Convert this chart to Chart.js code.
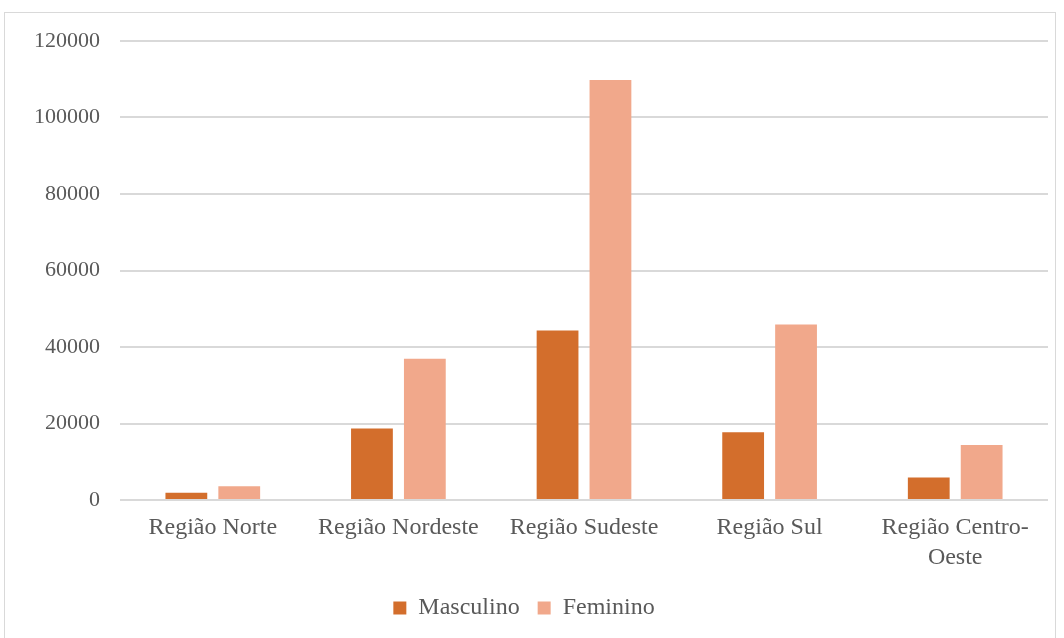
<!DOCTYPE html>
<html>
<head>
<meta charset="utf-8">
<script src="https://cdn.jsdelivr.net/npm/chart.js@4/dist/chart.umd.min.js"></script>
<style>
  body { margin: 0; background: #fff; }
  #wrap { position: relative; width: 1064px; height: 638px; overflow: hidden; }
  #frame { position: absolute; left: 4px; top: 12px; width: 1052px; height: 640px; border: 1px solid #d9d9d9; box-sizing: border-box; }
  canvas { position: absolute; left: 0; top: 0; }
</style>
</head>
<body>
<div id="wrap">
  <div id="frame"></div>
  <canvas id="chart" width="1064" height="638"></canvas>
</div>
<script>
// regiões
const regioes = ['Região Norte', 'Região Nordeste', 'Região Sudeste', 'Região Sul', ['Região Centro-', 'Oeste']];
// valores
const masculino = [1900, 18700, 44300, 17700, 5900];
const feminino = [3600, 36900, 109800, 45900, 14400];
const yTicks = [0, 20000, 40000, 60000, 80000, 100000, 120000];

const familia = '"Liberation Serif", "Times New Roman", serif';
const fonte = { family: familia, size: 24, lineHeight: 1.25 };

new Chart(document.getElementById('chart'), {
    type: 'bar',
    data: {
        labels: regioes,
        datasets: [
            {
                label: 'Masculino',
                data: masculino,
                backgroundColor: '#d36e2c',
                borderWidth: 0,
                barPercentage: 0.79,
                categoryPercentage: 0.57
            },
            {
                label: 'Feminino',
                data: feminino,
                backgroundColor: '#f1a88b',
                borderWidth: 0,
                barPercentage: 0.79,
                categoryPercentage: 0.57
            }
        ]
    },
    options: {
        responsive: false,
        animation: false,
        layout: { padding: { top: 41, right: 16, bottom: 8, left: 0 } },
        plugins: {
            tooltip: { enabled: false },
            legend: {
                position: 'bottom',
                labels: {
                    color: '#595959',
                    font: { family: familia, size: 24 },
                    boxWidth: 13,
                    boxHeight: 13,
                    padding: 18
                }
            }
        },
        scales: {
            x: {
                grid: { display: false },
                border: { display: false },
                ticks: { color: '#595959', font: fonte, maxRotation: 0, padding: 5 },
                afterFit: function (scale) { scale.height = 78; }
            },
            y: {
                min: 0,
                max: 120000,
                afterBuildTicks: function (scale) { scale.ticks = yTicks.map(v => ({ value: v })); },
                grid: { color: '#d9d9d9', lineWidth: 2, drawTicks: false },
                border: { display: false },
                ticks: {
                    color: '#595959',
                    font: { family: familia, size: 22 },
                    padding: 20,
                    callback: function (v) { return String(v); }
                },
                afterFit: function (scale) { scale.width = 120; }
            }
        }
    }
});
</script>
</body>
</html>
